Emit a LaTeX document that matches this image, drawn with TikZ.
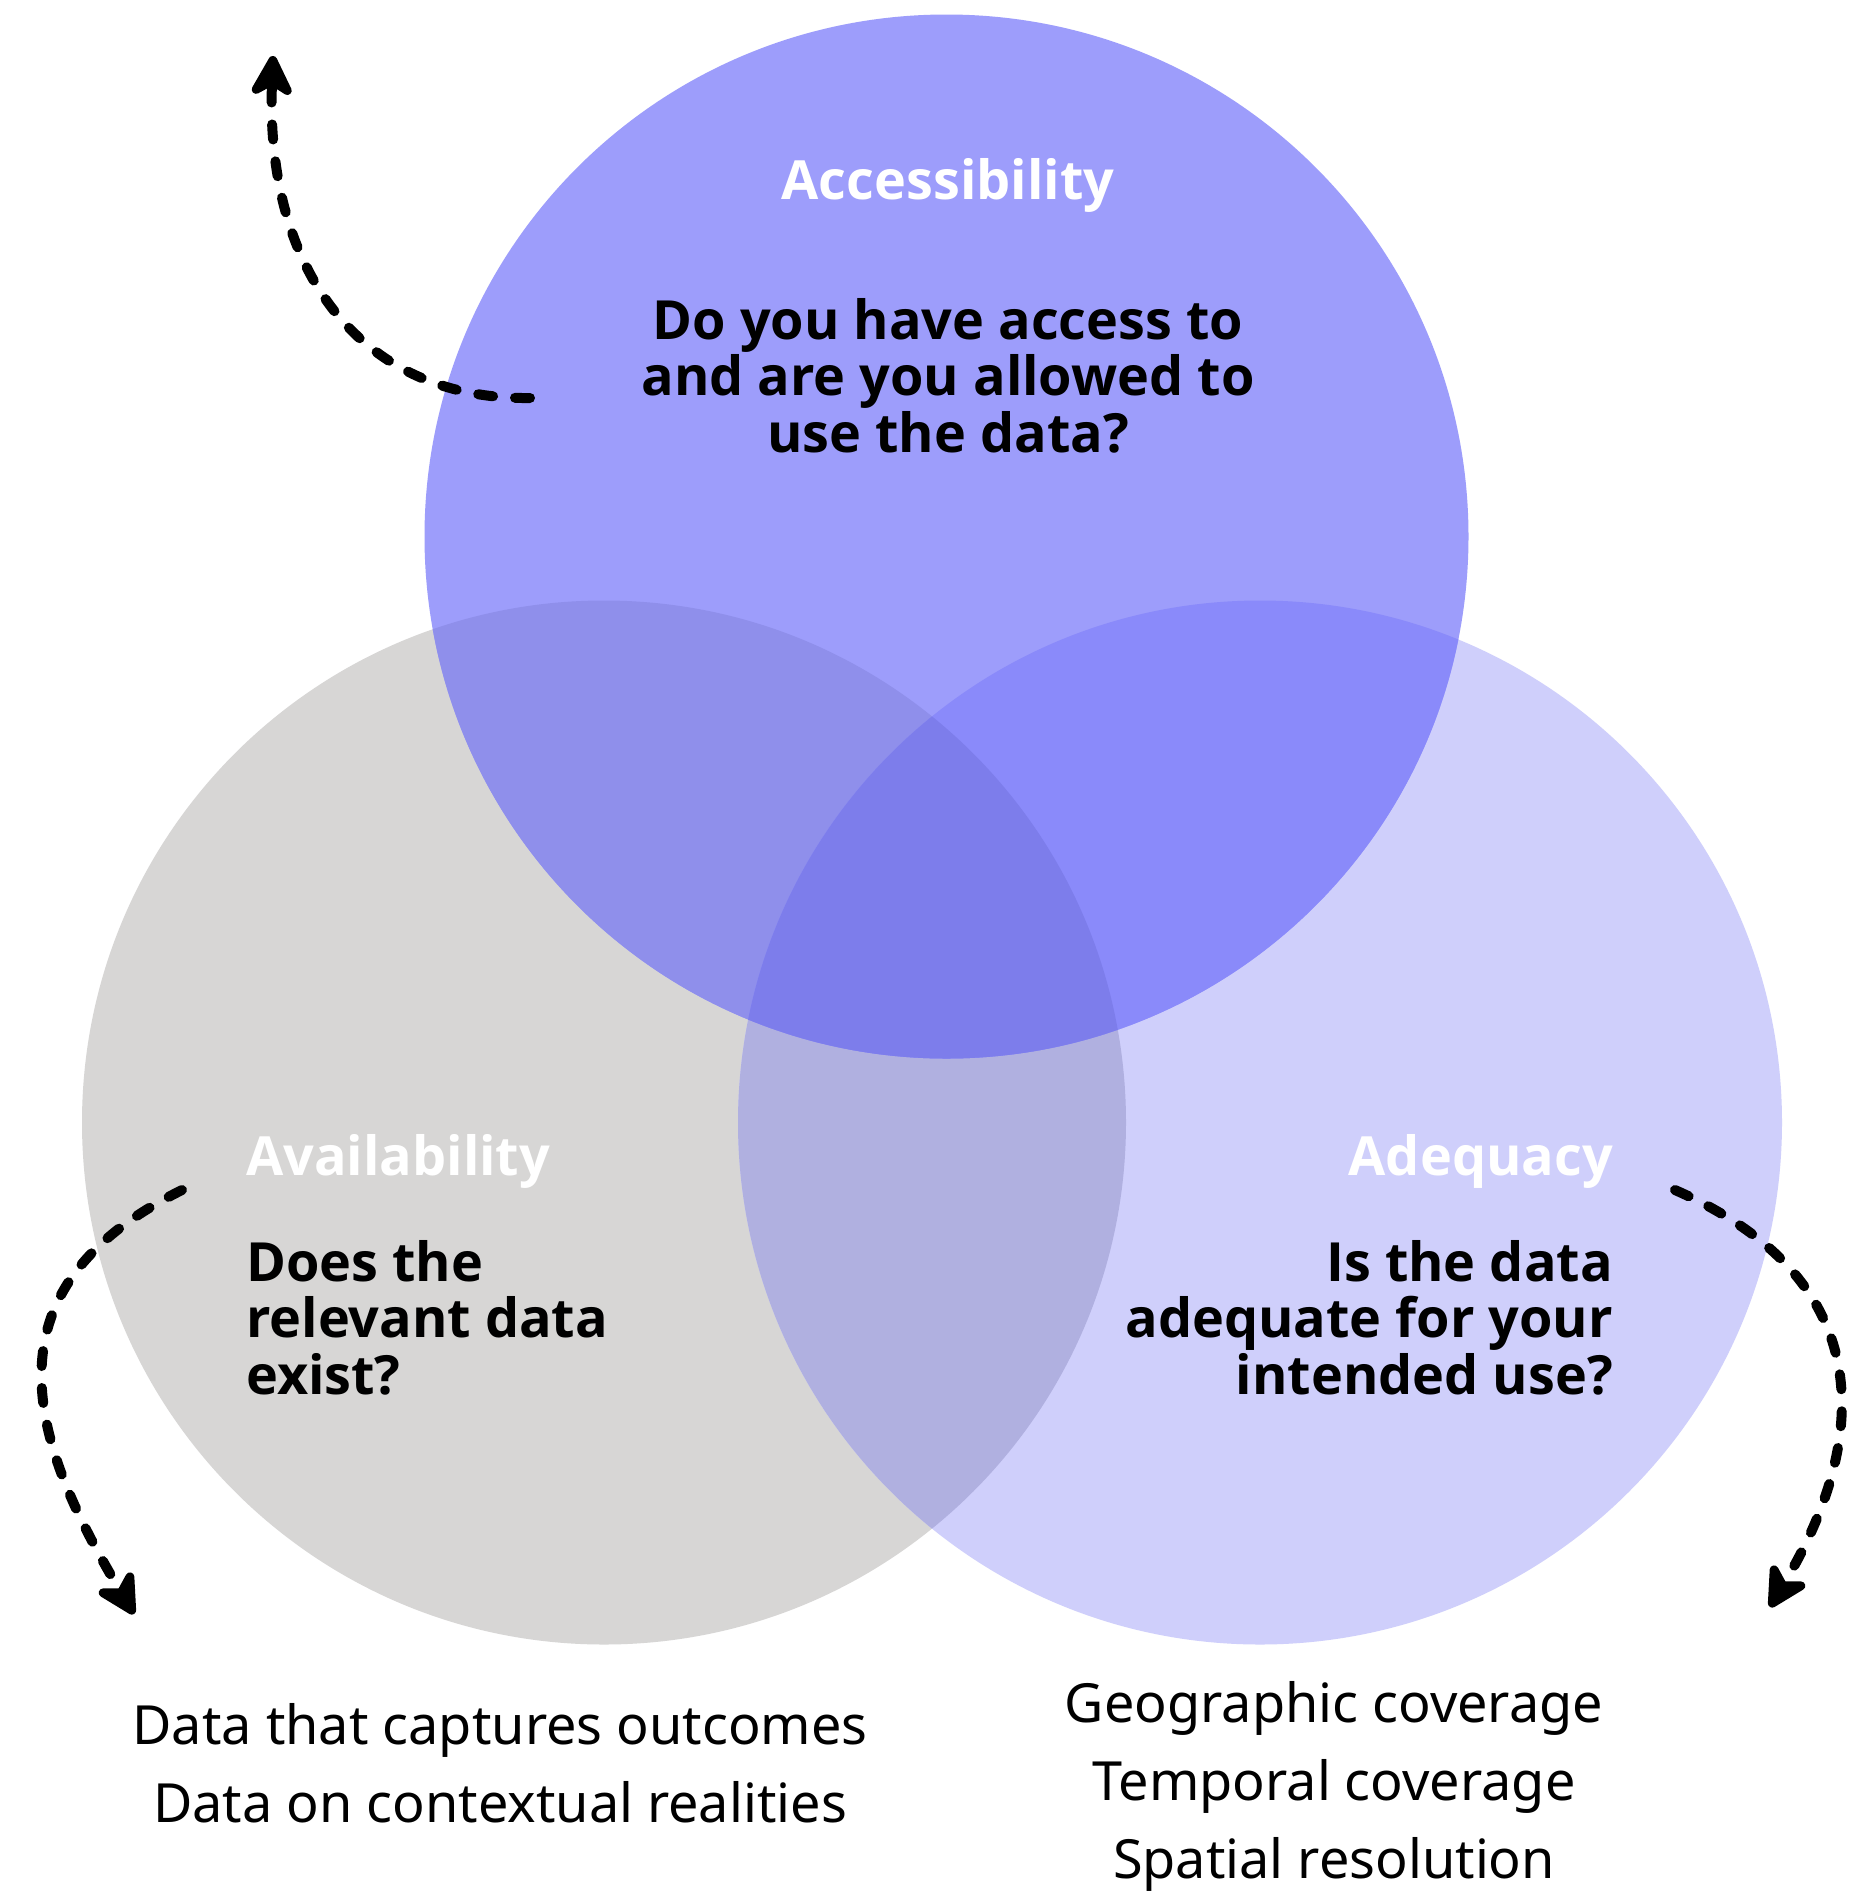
\documentclass[tikz,border=0pt]{standalone}
\usepackage{fontspec}
\setmainfont{Noto Sans}
\newfontfamily\boldfam{Open Sans}
\usetikzlibrary{arrows.meta}
\definecolor{cTop}{HTML}{9D9DFB}
\definecolor{cLeft}{HTML}{D7D6D5}
\definecolor{cRight}{HTML}{CFCFFB}
\definecolor{cTL}{HTML}{8F8FEB}
\definecolor{cTR}{HTML}{8A8AFA}
\definecolor{cLR}{HTML}{B0B0E0}
\definecolor{cMid}{HTML}{7D7DEB}
\tikzset{
  venn/.style={circle, minimum size=1044pt, inner sep=0pt, draw=none},
  headtxt/.style={font=\boldfam\fontsize{54}{57}\selectfont\bfseries, text=white, inner sep=0pt},
  qtxt/.style={font=\boldfam\fontsize{54}{56.5}\selectfont\bfseries, text=black, inner sep=0pt},
  listtxt/.style={font=\fontsize{54}{78}\selectfont, text=black, inner sep=0pt, align=center},
  dasharrow/.style={line width=10pt, line cap=round, dash pattern=on 15pt off 22pt,
    -{Stealth[length=50pt, width=52pt, inset=15pt, round]}}
}
\begin{document}
\begin{tikzpicture}[x=1pt, y=-1pt]
\useasboundingbox (0,0) rectangle (1870,1891);
\fill[white] (0,0) rectangle (1870,1891);
% circles
\node[venn, fill=cLeft] (avl) at (604,1122.5) {};
\node[venn, fill=cRight] (adq) at (1260,1122.5) {};
\node[venn, fill=cTop] (acc) at (946.5,536.5) {};
% overlaps
\begin{scope}
  \clip (604,1122.5) circle[radius=522pt];
  \fill[cLR] (1260,1122.5) circle[radius=522pt];
\end{scope}
\begin{scope}
  \clip (946.5,536.5) circle[radius=522pt];
  \fill[cTL] (604,1122.5) circle[radius=522pt];
  \fill[cTR] (1260,1122.5) circle[radius=522pt];
  \clip (604,1122.5) circle[radius=522pt];
  \fill[cMid] (1260,1122.5) circle[radius=522pt];
\end{scope}
% texts
\node[headtxt, anchor=base] (acchead) at (948,199) {Accessibility};
\node[qtxt, align=center, anchor=base] (accq) at (948,452)
  {Do you have access to\\and are you allowed to\\use the data?};
\node[headtxt, anchor=base west] (avlhead) at (246,1175) {Availability};
\node[qtxt, align=left, anchor=base west] (avlq) at (246,1394)
  {Does the\\relevant data\\exist?};
\node[headtxt, anchor=base east] (adqhead) at (1613,1175) {Adequacy};
\node[qtxt, align=right, anchor=base east] (adqq) at (1613,1394)
  {Is the data\\adequate for your\\intended use?};
\node[listtxt, anchor=base] (avllist) at (500,1822)
  {Data that captures outcomes\\Data on contextual realities};
\node[listtxt, anchor=base] (adqlist) at (1334,1878)
  {Geographic coverage\\Temporal coverage\\Spatial resolution};
% arrows
\coordinate (a1s) at (530,398);
\coordinate (a1e) at (273,56);
\coordinate (a2s) at (182,1190);
\coordinate (a2e) at (134,1614);
\coordinate (a3s) at (1675,1190);
\coordinate (a3e) at (1770,1607);
\draw[dasharrow] (a1s) .. controls (360,400) and (265,270) .. (a1e);
\draw[dasharrow] (a2s) .. controls (-20,1290) and (30,1440) .. (a2e);
\draw[dasharrow] (a3s) .. controls (1880,1280) and (1870,1440) .. (a3e);
\end{tikzpicture}
\end{document}
